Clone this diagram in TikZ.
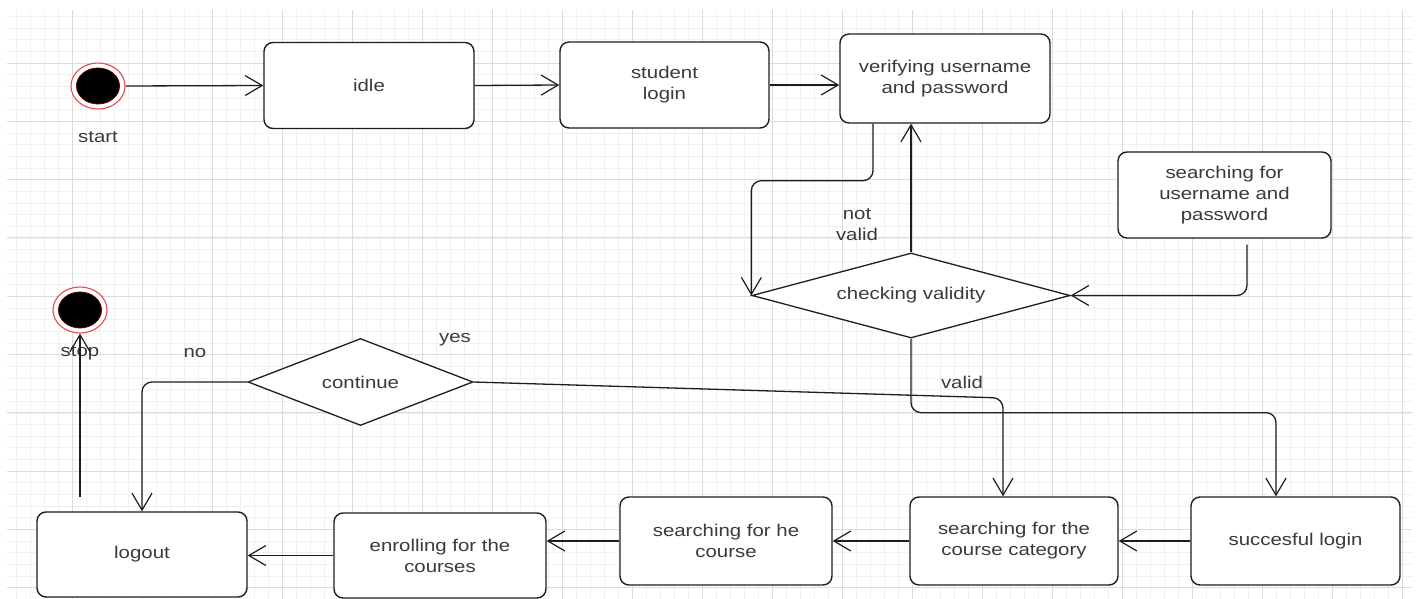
\documentclass[tikz,border=0pt]{standalone}
\usepackage{fontspec}
\setmainfont{Liberation Sans}[FakeStretch=1.2]
\usetikzlibrary{arrows.meta,shapes.geometric}
\definecolor{gridmajor}{HTML}{DCDCDC}
\definecolor{gridminor}{HTML}{F1F1F1}
\definecolor{txt}{HTML}{3A3A3A}
\definecolor{ln}{HTML}{1E1E1E}
\definecolor{ring}{HTML}{EE4A4A}
\newcommand\diagfont{\fontsize{17}{21}\selectfont}

\begin{document}
\begin{tikzpicture}[x=1pt,y=-1pt,
  state/.style={draw=ln, line width=1.4pt, rounded corners=9pt, fill=white,
    align=center, text=txt, font=\diagfont, inner sep=0pt},
  choice/.style={diamond, draw=ln, line width=1.3pt, fill=white, align=center,
    text=txt, font=\diagfont, inner sep=0pt},
  ringnode/.style={ellipse, draw=ring, line width=1.1pt, fill=white,
    minimum width=54pt, minimum height=46pt, inner sep=0pt},
  dotnode/.style={ellipse, fill=black, draw=red!35!black, line width=0.8pt,
    minimum width=43pt, minimum height=36pt, inner sep=0pt},
  tag/.style={text=txt, font=\diagfont, align=center, inner sep=0pt},
  conn/.style={draw=ln, line width=1.3pt,
    -{Straight Barb[length=17pt,width=20pt,line width=1.2pt]}},
]
\useasboundingbox (0,0) rectangle (1417,599);
\fill[white] (0,0) rectangle (1417,599);

% background grid
\begin{scope}
  \clip (7,10) rectangle (1412,599);
  \foreach \i in {0,...,101}
    \draw[gridminor, line width=0.6pt] ({2+14*\i},10) -- ++(0,589);
  \foreach \i in {0,...,51}
    \draw[gridminor, line width=0.6pt] (7,{4.7+11.66*\i}) -- ++(1405,0);
  \foreach \i in {0,...,20}
    \draw[gridmajor, line width=0.9pt] ({2+70*\i},10) -- ++(0,589);
  \foreach \i in {0,...,10}
    \draw[gridmajor, line width=0.9pt] (7,{4.7+58.3*\i}) -- ++(1405,0);
\end{scope}

% initial and final states
\node[ringnode] (start) at (98,86) {};
\node[dotnode] (startdot) at (start) {};
\node[tag] (startlbl) at (98,137) {start};
\node[ringnode] (stop) at (80,310) {};
\node[dotnode] (stopdot) at (stop) {};
\node[tag] (stoplbl) at (80,353) {stop};

% states
\node[state, minimum width=210pt, minimum height=86pt] (idle) at (369,85.5) {idle};
\node[state, minimum width=209pt, minimum height=86pt] (login) at (664.5,85) {student\\login};
\node[state, minimum width=210pt, minimum height=89pt] (verify) at (945,78.5) {verifying username\\and password};
\node[state, minimum width=213pt, minimum height=86pt] (searchuser) at (1224.5,195) {searching for\\username and\\password};
\node[state, minimum width=209pt, minimum height=88pt] (success) at (1295.5,541) {succesful login};
\node[state, minimum width=208pt, minimum height=88pt] (category) at (1014,541) {searching for the\\course category};
\node[state, minimum width=212pt, minimum height=88pt] (hecourse) at (726,541) {searching for he\\course};
\node[state, minimum width=212pt, minimum height=85pt] (enrol) at (440,555.5) {enrolling for the\\courses};
\node[state, minimum width=210pt, minimum height=85pt] (logout) at (142,554.5) {logout};

% decisions
\node[choice, shape aspect=3.74, minimum width=318pt, minimum height=85pt] (check) at (911,295.5) {checking validity};
\node[choice, shape aspect=2.59, minimum width=225pt, minimum height=87pt] (cont) at (360.5,382) {continue};

% guard labels
\node[tag] (nolbl) at (195,353) {no};
\node[tag] (yeslbl) at (455,340) {yes};
\node[tag] (notvalid) at (857,225) {not\\valid};
\node[tag] (validlbl) at (962,382) {valid};

% transitions
\draw[conn] (start.east) -- (idle.west);
\draw[conn] (idle.east) -- (login.west);
\draw[conn] (login.east) -- (login.east -| verify.west);
\draw[conn, rounded corners=10pt] ([xshift=-72pt]verify.south) -- ++(0,57) -| (check.west);
\draw[conn] (check.north) -- (check.north |- verify.south);
\draw[conn, rounded corners=10pt] ([xshift=22.5pt,yshift=-6pt]searchuser.south) |- (check.east);
\draw[conn, rounded corners=10pt] (check.south) -- ++(0,74) -| ([xshift=-19.5pt]success.north);
\coordinate (yesbend) at (1003,398);
\draw[conn, rounded corners=10pt] (cont.east) -- (yesbend) -- ([xshift=-11pt]category.north);
\draw[conn, rounded corners=10pt] (cont.west) -| (logout.north);
\draw[conn] (success.west) -- (category.east);
\draw[conn] (category.west) -- (hecourse.east);
\draw[conn] (hecourse.west) -- (hecourse.west -| enrol.east);
\draw[conn] (enrol.west) -- (enrol.west -| logout.east);
\coordinate (stopfoot) at (80,497);
\draw[conn] (stopfoot) -- (stop.south);
\end{tikzpicture}
\end{document}
